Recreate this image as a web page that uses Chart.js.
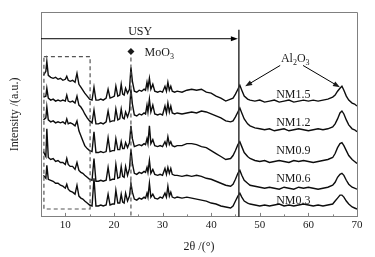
<!DOCTYPE html>
<html lang="en">
<head>
    <meta charset="UTF-8">
    <title>XRD NM series</title>
    <script src="https://cdn.jsdelivr.net/npm/chart.js"></script>
    <style>
        body { margin: 0; background: #fff; }
        canvas { display: block; }
    </style>
</head>
<body>
    <canvas id="xrd" width="375" height="257"></canvas>

<script>
    // 2theta grid (degrees), shared by all samples
    const twoTheta = [
        5.5, 6, 6.2, 6.5, 7, 7.5, 8, 8.5, 9, 9.5,
        10, 10.3, 10.6, 11, 11.5, 12, 12.4, 12.8, 13.2, 13.6,
        14, 14.5, 15, 15.5, 15.9, 16.3, 16.8, 17.3, 17.8, 18.4,
        18.8, 19.2, 19.7, 20.1, 20.4, 20.8, 21.2, 21.5, 21.8, 22.1,
        22.4, 22.8, 23.2, 23.5, 23.8, 24.2, 24.7, 25.2, 25.7, 26.2,
        26.5, 26.8, 27, 27.3, 27.6, 28, 28.4, 29, 29.5, 30,
        30.5, 30.8, 31.1, 31.4, 31.7, 32, 32.5, 33, 34, 35,
        36, 37, 38, 39, 40, 41, 42, 43, 44, 44.5,
        45, 45.5, 45.9, 46.3, 46.8, 47.5, 48, 49, 50, 51,
        52, 53, 54, 55, 56, 57, 58, 59, 60, 61,
        62, 63, 64, 65, 65.5, 66, 66.5, 66.9, 67.3, 67.8,
        68.3, 69, 69.5, 70
    ];

    // intensities (a.u., stacked with offsets as in the figure)
    const nm15 = [
        143, 147, 157, 143, 141, 140, 141, 139, 140, 138,
        139, 142, 138, 137, 138, 136, 145, 134, 131, 128,
        125, 122, 119, 118, 131, 118, 118, 119, 118, 120,
        129, 120, 121, 122, 132, 122, 123, 134, 124, 123,
        130, 125, 129, 151, 137, 127, 126, 128, 127, 129,
        128, 136, 130, 140, 129, 134, 127, 126, 127, 126,
        132, 127, 136, 128, 132, 127, 126, 127, 126, 128,
        129, 128, 129, 126, 125, 122, 120, 117, 119, 120,
        124, 129, 133, 128, 122, 119, 118, 117, 118, 116,
        117, 118, 116, 117, 118, 116, 117, 118, 117, 118,
        117, 118, 119, 121, 123, 127, 130, 132, 128, 122,
        118, 115, 114, 112
    ];
    const nm12 = [
        121, 122, 130, 120, 118, 119, 117, 118, 117, 118,
        117, 123, 117, 116, 117, 115, 122, 113, 111, 108,
        104, 100, 97, 95, 108, 94, 94, 95, 94, 96,
        107, 96, 97, 97, 109, 98, 99, 109, 100, 99,
        106, 101, 107, 129, 114, 103, 102, 104, 103, 105,
        104, 113, 106, 119, 106, 113, 104, 103, 104, 103,
        112, 105, 115, 106, 112, 105, 104, 105, 104, 105,
        106, 105, 107, 106, 104, 102, 100, 97, 96, 97,
        101, 106, 110, 105, 99, 94, 92, 90, 89, 88,
        89, 87, 88, 89, 87, 88, 89, 88, 87, 88,
        89, 88, 89, 91, 94, 99, 105, 107, 104, 98,
        93, 89, 88, 86
    ];
    const nm09 = [
        98, 100, 111, 98, 96, 97, 95, 96, 95, 96,
        94, 99, 94, 95, 94, 92, 97, 87, 82, 77,
        72, 69, 67, 66, 86, 65, 65, 66, 65, 66,
        80, 66, 67, 67, 79, 68, 68, 76, 69, 69,
        75, 70, 75, 92, 79, 71, 72, 73, 72, 74,
        73, 79, 74, 92, 74, 78, 72, 71, 72, 71,
        76, 72, 81, 73, 76, 72, 71, 72, 72, 74,
        74, 73, 71, 70, 67, 64, 61, 58, 59, 62,
        67, 73, 76, 71, 65, 61, 59, 57, 56, 57,
        55, 56, 57, 56, 55, 57, 56, 57, 56, 55,
        56, 57, 58, 60, 64, 70, 74, 75, 72, 67,
        62, 58, 56, 54
    ];
    const nm06 = [
        66, 61, 89, 60, 58, 59, 56, 57, 55, 55,
        53, 59, 53, 51, 51, 48, 55, 47, 45, 44,
        42, 40, 38, 37, 59, 36, 36, 37, 36, 37,
        50, 37, 38, 38, 53, 39, 40, 51, 41, 40,
        51, 42, 49, 68, 54, 44, 43, 45, 44, 46,
        45, 50, 45, 57, 44, 48, 43, 42, 43, 42,
        49, 43, 50, 44, 49, 43, 42, 42, 41, 42,
        41, 42, 41, 39, 38, 36, 34, 32, 31, 33,
        38, 44, 47, 42, 37, 34, 32, 31, 30, 29,
        30, 29, 28, 30, 29, 28, 30, 29, 30, 29,
        28, 29, 30, 32, 35, 40, 43, 44, 42, 37,
        33, 30, 29, 28
    ];
    const nm03 = [
        42, 39, 52, 38, 37, 36, 34, 34, 32, 31,
        29, 33, 28, 26, 25, 23, 32, 21, 19, 18,
        16, 14, 12, 11, 39, 11, 11, 12, 11, 12,
        23, 12, 13, 13, 27, 14, 14, 23, 15, 14,
        24, 16, 21, 34, 25, 18, 17, 19, 18, 20,
        19, 24, 20, 34, 20, 23, 19, 18, 20, 19,
        24, 20, 31, 21, 25, 20, 19, 20, 19, 20,
        19, 18, 17, 16, 14, 13, 11, 10, 9, 11,
        16, 21, 24, 20, 16, 14, 13, 12, 11, 12,
        11, 12, 13, 11, 12, 11, 12, 13, 12, 11,
        12, 11, 12, 13, 16, 19, 22, 22, 20, 16,
        13, 10, 9, 8
    ];

    const sampleNames = ['NM1.5', 'NM1.2', 'NM0.9', 'NM0.6', 'NM0.3'];
    const sampleLabelY = [123, 95, 67, 38, 16];   // where each name sits (a.u.)
    const xTicks = [10, 20, 30, 40, 50, 60, 70];
    const xMinorTicks = [15, 25, 35, 45, 55, 65];

    // annotation anchors in data units
    const usyEdge = 45.7;     // end of the USY region
    const usyLevel = 180;
    const moo3Peak = 23.5;
    const boxFrom = [5.6, 8];
    const boxTo = [15.1, 162];

    const serif = '"Liberation Serif", "Times New Roman", serif';

    function serie(valores) {
        return twoTheta.map((t, i) => ({ x: t, y: valores[i] }));
    }

    // draws text with subscript digits, e.g. Al2O3
    function textoQuimico(ctx, partes, x, y, align) {
        const grande = '12px ' + serif, pequeno = '8px ' + serif;
        let largura = 0;
        partes.forEach(p => {
            ctx.font = p[1] ? pequeno : grande;
            largura += ctx.measureText(p[0]).width;
        });
        let cx = align === 'center' ? x - largura / 2 : x;
        ctx.textAlign = 'left';
        ctx.textBaseline = 'middle';
        partes.forEach(p => {
            ctx.font = p[1] ? pequeno : grande;
            ctx.fillText(p[0], cx, p[1] ? y + 4 : y);
            cx += ctx.measureText(p[0]).width;
        });
    }

    function seta(ctx, x1, y1, x2, y2) {
        const ang = Math.atan2(y2 - y1, x2 - x1);
        const len = 7, meia = 2.6;
        ctx.beginPath();
        ctx.moveTo(x1, y1);
        ctx.lineTo(x2 - Math.cos(ang) * (len - 1), y2 - Math.sin(ang) * (len - 1));
        ctx.stroke();
        ctx.beginPath();
        ctx.moveTo(x2, y2);
        ctx.lineTo(x2 - Math.cos(ang) * len - Math.sin(ang) * meia, y2 - Math.sin(ang) * len + Math.cos(ang) * meia);
        ctx.lineTo(x2 - Math.cos(ang) * len + Math.sin(ang) * meia, y2 - Math.sin(ang) * len - Math.cos(ang) * meia);
        ctx.closePath();
        ctx.fill();
    }

    const anotacoes = {
        id: 'anotacoes',
        afterDatasetsDraw(chart) {
            const { ctx, chartArea: a, scales: { x, y } } = chart;
            const px = v => x.getPixelForValue(v);
            const py = v => y.getPixelForValue(v);
            ctx.save();

            // frame top and right
            ctx.strokeStyle = '#808080';
            ctx.lineWidth = 1;
            ctx.beginPath();
            ctx.moveTo(a.left, a.top + 0.5);
            ctx.lineTo(a.right + 0.5, a.top + 0.5);
            ctx.lineTo(a.right + 0.5, a.bottom);
            ctx.stroke();

            // inward tick marks
            ctx.beginPath();
            xTicks.forEach(v => {
                const X = Math.round(px(v)) + 0.5;
                ctx.moveTo(X, a.bottom);
                ctx.lineTo(X, a.bottom - 4);
            });
            xMinorTicks.forEach(v => {
                const X = Math.round(px(v)) + 0.5;
                ctx.moveTo(X, a.bottom);
                ctx.lineTo(X, a.bottom - 2.5);
            });
            ctx.stroke();

            // dashed box over the zeolite low-angle region and MoO3 line
            ctx.strokeStyle = '#555';
            ctx.lineWidth = 1.2;
            ctx.setLineDash([4, 3]);
            ctx.strokeRect(px(boxFrom[0]), py(boxTo[1]), px(boxTo[0]) - px(boxFrom[0]), py(boxFrom[1]) - py(boxTo[1]));
            ctx.beginPath();
            ctx.moveTo(px(moo3Peak), py(161));
            ctx.lineTo(px(moo3Peak), a.bottom);
            ctx.stroke();
            ctx.setLineDash([]);

            // USY region
            ctx.strokeStyle = '#000';
            ctx.fillStyle = '#000';
            ctx.lineWidth = 1;
            seta(ctx, a.left, py(usyLevel), px(usyEdge) - 1, py(usyLevel));
            ctx.strokeStyle = '#333';
            ctx.lineWidth = 1.5;
            ctx.beginPath();
            ctx.moveTo(px(usyEdge), py(189));
            ctx.lineTo(px(usyEdge), a.bottom);
            ctx.stroke();

            ctx.fillStyle = '#1a1a1a';
            ctx.font = '12px ' + serif;
            ctx.textAlign = 'center';
            ctx.textBaseline = 'middle';
            ctx.fillText('USY', px(25.4), py(187));

            // MoO3 marker
            const dx = px(moo3Peak), dy = py(167);
            ctx.beginPath();
            ctx.moveTo(dx, dy - 3.5);
            ctx.lineTo(dx + 3.5, dy);
            ctx.lineTo(dx, dy + 3.5);
            ctx.lineTo(dx - 3.5, dy);
            ctx.closePath();
            ctx.fill();
            textoQuimico(ctx, [['MoO', 0], ['3', 1]], px(26.3), py(166), 'left');

            // Al2O3 label and arrows
            textoQuimico(ctx, [['Al', 0], ['2', 1], ['O', 0], ['3', 1]], px(57.3), py(160), 'center');
            ctx.strokeStyle = '#000';
            ctx.lineWidth = 1;
            seta(ctx, px(54.2), py(153), px(47.0), py(132));
            seta(ctx, px(58.9), py(153), px(66.5), py(131));

            // sample names
            ctx.fillStyle = '#1a1a1a';
            ctx.font = '12px ' + serif;
            ctx.textAlign = 'center';
            sampleNames.forEach((nome, i) => {
                ctx.fillText(nome, px(56.9), py(sampleLabelY[i]));
            });

            ctx.restore();
        }
    };

    const dados = {
        datasets: [nm15, nm12, nm09, nm06, nm03].map((v, i) => ({
            label: sampleNames[i],
            data: serie(v),
            borderColor: '#0d0d0d',
            borderWidth: 1.4,
            pointRadius: 0,
            tension: 0,
            fill: false
        }))
    };

    const config = {
        type: 'line',
        data: dados,
        options: {
            responsive: false,
            animation: false,
            devicePixelRatio: 1,
            layout: { padding: { left: 6, right: 18, top: 12, bottom: 0 } },
            plugins: { legend: { display: false }, tooltip: { enabled: false } },
            scales: {
                x: {
                    type: 'linear',
                    min: 5,
                    max: 70,
                    afterBuildTicks: s => { s.ticks = xTicks.map(v => ({ value: v })); },
                    grid: { display: false, drawTicks: false },
                    border: { display: true, color: '#808080' },
                    ticks: { color: '#1a1a1a', padding: 2, font: { family: serif, size: 11 } },
                    title: {
                        display: true,
                        text: '2θ /(°)',
                        color: '#1a1a1a',
                        font: { family: serif, size: 12 },
                        padding: { top: 5.5, bottom: 3 }
                    }
                },
                y: {
                    min: 0,
                    max: 207,
                    grid: { display: false, drawTicks: false },
                    border: { display: true, color: '#808080' },
                    ticks: { display: false },
                    title: {
                        display: true,
                        text: 'Intensity /(a.u.)',
                        color: '#1a1a1a',
                        font: { family: serif, size: 12 },
                        padding: { top: 2, bottom: 18.6 }
                    }
                }
            }
        },
        plugins: [anotacoes]
    };

    let myChart = new Chart(document.getElementById('xrd'), config);
</script>
</body>
</html>
